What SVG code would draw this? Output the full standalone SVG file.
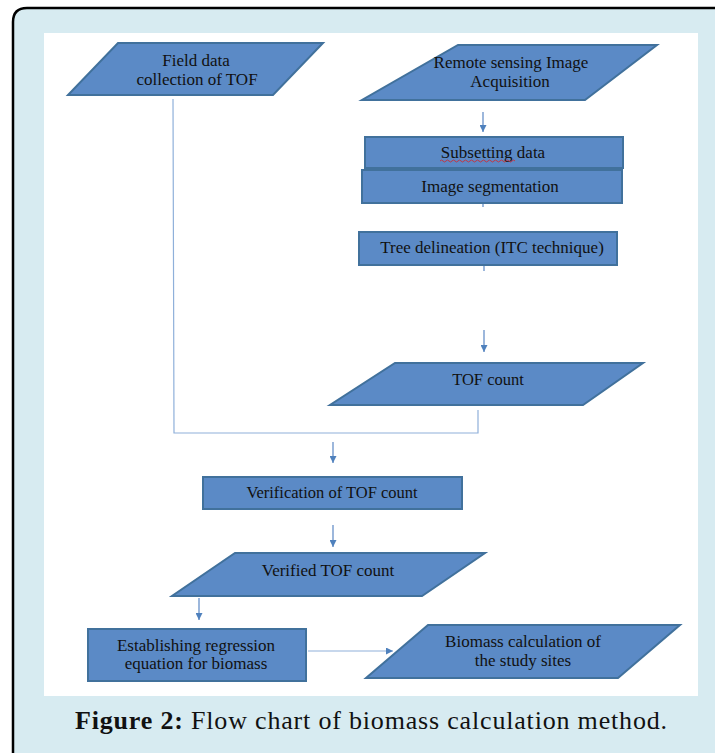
<svg xmlns="http://www.w3.org/2000/svg" width="715" height="753" viewBox="0 0 715 753">
<style>
.shape{fill:#5B8AC6;stroke:#41719C;stroke-width:2}
.lbl{font-family:"Liberation Serif","Times New Roman",serif;font-size:17px;fill:#111;text-anchor:middle}
.lbl2{font-family:"Liberation Serif","Times New Roman",serif;font-size:16.5px;fill:#111;text-anchor:middle}
.con{stroke:#5B87C4;stroke-width:1.2;fill:none}
.con2{stroke:#8FB0DA;stroke-width:1.2;fill:none}
.cap{font-family:"Liberation Serif","Times New Roman",serif;font-size:26px;fill:#111}
</style>
<defs>
<marker id="ah" viewBox="0 0 10 10" refX="10" refY="5" markerWidth="7" markerHeight="7" markerUnits="userSpaceOnUse" orient="auto">
<path d="M0,0 L10,5 L0,10 z" fill="#4F81BD"/>
</marker>
</defs>
<rect x="0" y="0" width="715" height="753" fill="#ffffff"/>
<path d="M13,753 V22 Q13,8 27,8 H715 V753 Z" fill="#D7EBF1"/>
<path d="M13,753 V22 Q13,8 27,8 H715" fill="none" stroke="#000" stroke-width="2.5"/>
<rect x="44" y="33" width="654" height="663" fill="#ffffff"/>

<g id="connectors">
<line class="con" x1="483" y1="112" x2="483" y2="132" marker-end="url(#ah)"/>
<line class="con" x1="483" y1="203" x2="483" y2="207"/>
<line class="con" x1="484" y1="265" x2="484" y2="271"/>
<line class="con" x1="484" y1="330" x2="484" y2="352" marker-end="url(#ah)"/>
<polyline class="con2" points="173,99 174,433 478,433 478,410"/>
<line class="con" x1="333" y1="442" x2="333" y2="463" marker-end="url(#ah)"/>
<line class="con" x1="333" y1="525" x2="333" y2="547" marker-end="url(#ah)"/>
<line class="con" x1="199" y1="598" x2="199" y2="620" marker-end="url(#ah)"/>
<line class="con2" x1="308" y1="651" x2="393" y2="651" marker-end="url(#ah)"/>
</g>

<g id="field-data">
<polygon class="shape" points="118,43 323,43 273,95 68,95"/>
<text class="lbl" x="196" y="66">Field data</text>
<text class="lbl" x="197" y="85">collection of TOF</text>
</g>

<g id="remote-sensing">
<polygon class="shape" points="458,45 657,45 585,100 362,100"/>
<text class="lbl" x="511" y="68">Remote sensing Image</text>
<text class="lbl" x="510" y="87">Acquisition</text>
</g>

<g id="subsetting">
<rect class="shape" x="365" y="137" width="258" height="31"/>
<text class="lbl" x="493" y="158">Subsetting data</text>
<path d="M440,161 q1.5,-2 3,0 t3,0 t3,0 t3,0 t3,0 t3,0 t3,0 t3,0 t3,0 t3,0 t3,0 t3,0 t3,0 t3,0 t3,0 t3,0 t3,0 t3,0 t3,0 t3,0 t3,0 t3,0 t3,0 t3,0 t3,0" fill="none" stroke="#D22" stroke-width="0.8"/>
</g>

<g id="image-segmentation">
<rect class="shape" x="362" y="170" width="260" height="33"/>
<text class="lbl" x="490" y="192">Image segmentation</text>
</g>

<g id="tree-delineation">
<rect class="shape" x="359" y="232" width="258" height="33"/>
<text class="lbl" x="492" y="253">Tree delineation (ITC technique)</text>
</g>

<g id="tof-count">
<polygon class="shape" points="395,363 643,363 583,405 330,405"/>
<text class="lbl2" x="488" y="385">TOF count</text>
</g>

<g id="verification">
<rect class="shape" x="203" y="477" width="259" height="32"/>
<text class="lbl2" x="332" y="498">Verification of TOF count</text>
</g>

<g id="verified-tof">
<polygon class="shape" points="235,553 485,553 422,596 172,596"/>
<text class="lbl" x="328" y="576">Verified TOF count</text>
</g>

<g id="regression">
<rect class="shape" x="88" y="629" width="218" height="52"/>
<text class="lbl" x="196" y="651">Establishing regression</text>
<text class="lbl" x="196" y="669">equation for biomass</text>
</g>

<g id="biomass">
<polygon class="shape" points="428,625 680,625 618,678 366,678"/>
<text class="lbl" x="523" y="647">Biomass calculation of</text>
<text class="lbl" x="523" y="666">the study sites</text>
</g>

<text class="cap" x="75" y="729" textLength="592" lengthAdjust="spacing"><tspan font-weight="bold">Figure 2:</tspan> Flow chart of biomass calculation method.</text>
</svg>
